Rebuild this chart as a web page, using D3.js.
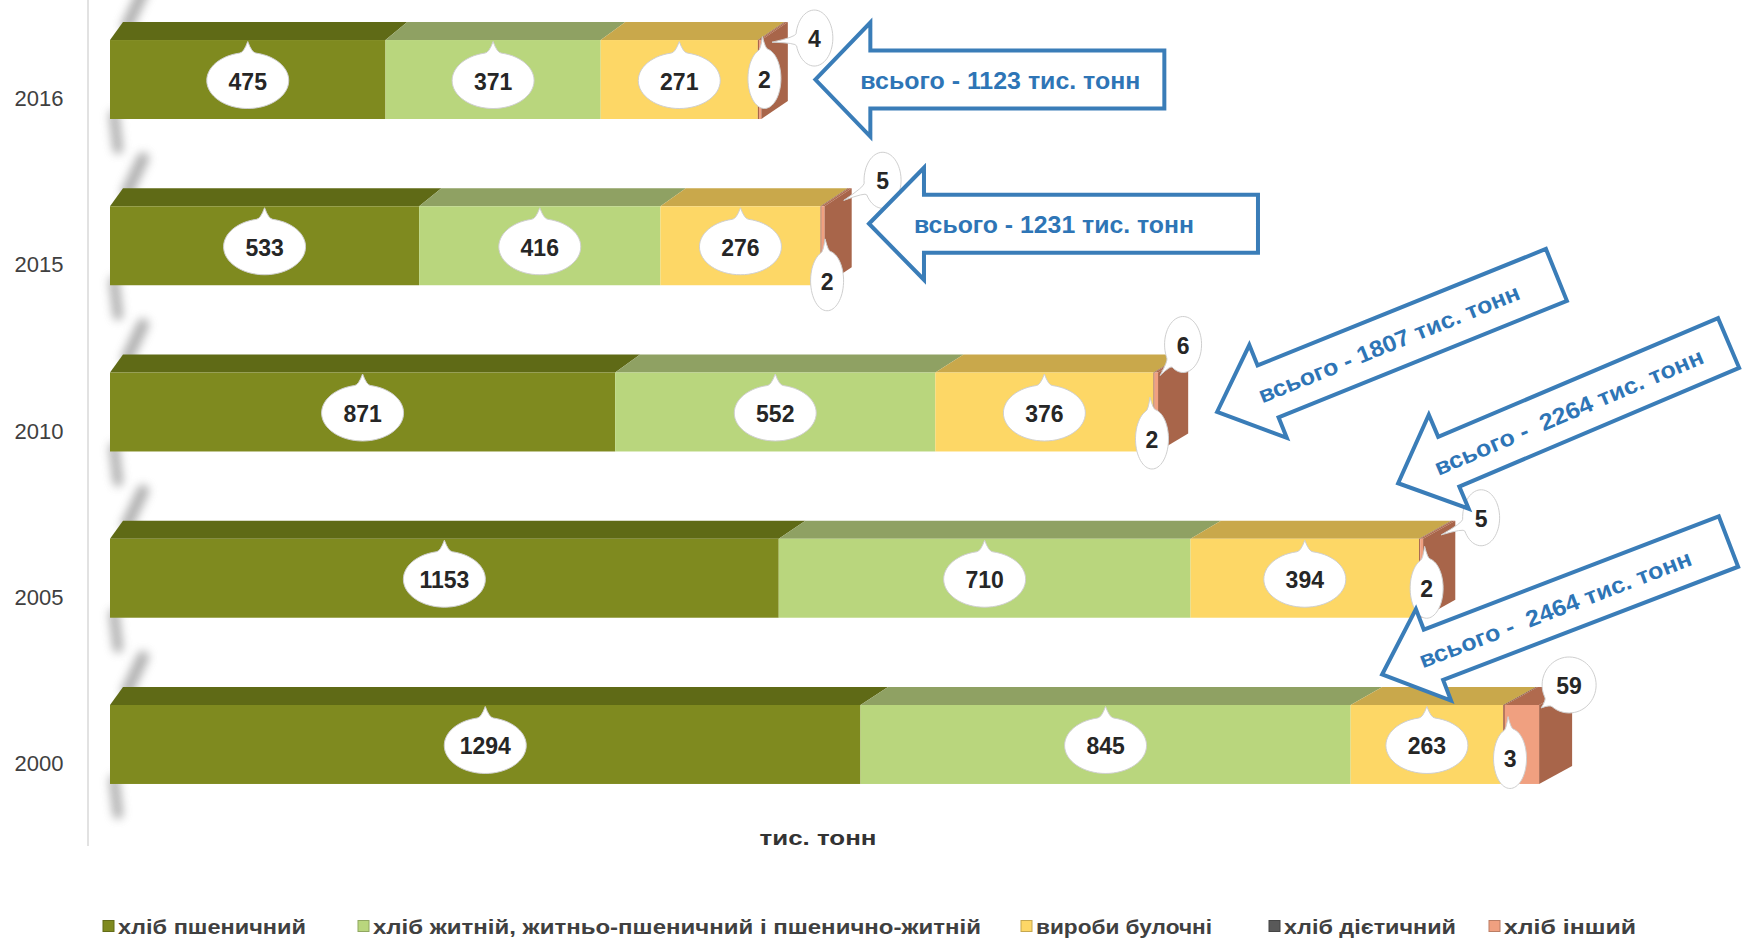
<!DOCTYPE html>
<html><head><meta charset="utf-8">
<script src="https://cdn.jsdelivr.net/npm/d3@7"></script>
<style>body{margin:0;background:#fff} svg{display:block}</style>
</head><body><svg id="chart" width="1746" height="941"></svg>
<script>
// ---------- DATA ----------
const years = ["2016", "2015", "2010", "2005", "2000"];
const seriesNames = ["хліб пшеничний", "хліб житній, житньо-пшеничний і пшенично-житній", "вироби булочні", "хліб дієтичний", "хліб інший"];
const wheat   = [475, 533, 871, 1153, 1294];
const rye     = [371, 416, 552, 710, 845];
const buns    = [271, 276, 376, 394, 263];
const dietary = [2, 2, 2, 2, 3];
const other   = [4, 5, 6, 5, 59];
const totals  = [1123, 1231, 1807, 2264, 2464];
const totalLabels = ["всього - 1123 тис. тонн", "всього - 1231 тис. тонн", "всього - 1807 тис. тонн", "всього -  2264 тис. тонн", "всього -  2464 тис. тонн"];
const axisTitle = "тис. тонн";

// ---------- STYLE / LAYOUT ----------
const frontColors = ["#7f8a1f", "#b9d67d", "#fdd766", "#a8654a", "#f0a080"];
const topColors   = ["#5f6a16", "#8fa163", "#c9a84b", "#8a5a40", "#b06a4e"];
const sideColor   = "#a8654a";
const legendSwatch = ["#7f8a1f", "#b9d67d", "#fdd766", "#595959", "#f0a080"];
const legendX = [103, 358, 1021, 1269, 1489];
const legendW = [188, 608, 176, 172, 132];
const dietNudge  = [[6, -1], [6, 35], [-2, 27], [7, 10], [6, 14]];
const otherNudge = [[53, -2], [58, -26], [25, -28], [58, -21], [30, -20]];
const arrowLayout = [
  {dx: 54, dy: 0, ang: 0, len: 349, hw: 57, sw: 29},
  {dx: 45, dy: -22, ang: 0, len: 389, hw: 56, sw: 29},
  {dx: 59, dy: 0, ang: 22, len: 366, hw: 50, sw: 28},
  {dx: -25, dy: -95, ang: 23, len: 359, hw: 51, sw: 27},
  {dx: -157, dy: -70, ang: 21, len: 371, hw: 49, sw: 27}
];
const FONT = "'Liberation Sans', Arial, sans-serif";

const svg = d3.select("#chart");
const defs = svg.append("defs");
defs.append("filter").attr("id", "blur").attr("filterUnits", "userSpaceOnUse")
  .attr("x", 0).attr("y", 0).attr("width", 400).attr("height", 941)
  .append("feGaussianBlur").attr("stdDeviation", 5);

const x = d3.scaleLinear().domain([0, 2500]).range([110, 110 + 2500 * 0.58]);
const y = d3.scaleBand().domain(years).range([-3.6, 827.6]).paddingInner(0.525).paddingOuter(0.2625);
const bw = y.bandwidth();
const DY = 18;
const dxAt = px => 13 + 20 * Math.sqrt(Math.max(0, (px - 110) / 1430));

const keys = ["s0", "s1", "s2", "s3", "s4"];
const table = years.map((yr, i) => ({year: yr, s0: wheat[i], s1: rye[i], s2: buns[i], s3: dietary[i], s4: other[i]}));
const stacked = d3.stack().keys(keys)(table);

// axis line
svg.append("line").attr("x1", 88).attr("x2", 88).attr("y1", 0).attr("y2", 846)
  .attr("stroke", "#d9d9d9").attr("stroke-width", 1.5);

// year labels
svg.append("g").selectAll("text").data(years).join("text")
  .attr("x", 39).attr("y", d => y(d) + bw / 2 + 19)
  .attr("text-anchor", "middle").attr("dominant-baseline", "central")
  .attr("font-family", FONT).attr("font-size", 22).attr("fill", "#404040")
  .text(d => d);

// shadows
const shadowG = svg.append("g").attr("filter", "url(#blur)").attr("opacity", 0.6);
years.forEach(yr => {
  const top = y(yr), bot = top + bw, x0 = x(0), dl = dxAt(x0);
  shadowG.append("path")
    .attr("d", `M${x0 + dl + 20},${top - DY - 30} L${x0 + dl + 4},${top - DY + 4}`)
    .attr("stroke", "#7a7a7a").attr("stroke-width", 12).attr("fill", "none").attr("stroke-linecap", "round");
  shadowG.append("path")
    .attr("d", `M${x0 + 4},${bot - 4} L${x0 + 8},${bot + 30}`)
    .attr("stroke", "#7a7a7a").attr("stroke-width", 10).attr("fill", "none").attr("stroke-linecap", "round");
});

// bars
const barsG = svg.append("g");
years.forEach((yr, i) => {
  const top = y(yr), bot = top + bw;
  const g = barsG.append("g");
  stacked.forEach((s, k) => {
    const [a, b] = s[i];
    const xa = x(a), xb = x(b);
    g.append("polygon")
      .attr("points", [[xa, top], [xb, top], [xb + dxAt(xb), top - DY], [xa + dxAt(xa), top - DY]].map(p => p.join(",")).join(" "))
      .attr("fill", topColors[k]);
  });
  stacked.forEach((s, k) => {
    const [a, b] = s[i];
    g.append("rect").attr("x", x(a)).attr("y", top).attr("width", Math.max(0, x(b) - x(a))).attr("height", bw)
      .attr("fill", frontColors[k]);
  });
  const xe = x(stacked[4][i][1]), de = dxAt(xe);
  g.append("polygon")
    .attr("points", [[xe, top], [xe + de, top - DY], [xe + de, bot - DY], [xe, bot]].map(p => p.join(",")).join(" "))
    .attr("fill", sideColor);
});

// bubble helper
function bubblePath(cx, cy, rx, ry, tx, ty, maxTip, delta) {
  const th = Math.atan2((ty - cy) / ry, (tx - cx) / rx);
  const pts = [];
  const n = 60;
  for (let j = 0; j <= n; j++) {
    const t = th + delta + (2 * Math.PI - 2 * delta) * j / n;
    pts.push([cx + rx * Math.cos(t), cy + ry * Math.sin(t)]);
  }
  const bx = cx + rx * Math.cos(th), by = cy + ry * Math.sin(th);
  const dist = Math.hypot(tx - bx, ty - by);
  const L = Math.min(dist, maxTip);
  const ux = (tx - bx) / (dist || 1), uy = (ty - by) / (dist || 1);
  const tip = [bx + ux * L, by + uy * L];
  const p1 = pts[0], p2 = pts[pts.length - 1];
  return `M${tip[0]},${tip[1]} Q${(p2[0] + bx) / 2},${(p2[1] + by) / 2} ${p2[0]},${p2[1]} ` +
    pts.slice().reverse().map(p => `L${p[0]},${p[1]}`).join(" ") +
    ` Q${(p1[0] + bx) / 2},${(p1[1] + by) / 2} ${tip[0]},${tip[1]} Z`;
}

const labelG = svg.append("g");
function addBubble(cx, cy, rx, ry, tx, ty, maxTip, delta, txt) {
  labelG.append("path").attr("d", bubblePath(cx, cy, rx, ry, tx, ty, maxTip, delta))
    .attr("fill", "#ffffff").attr("stroke", "#cfcfcf").attr("stroke-width", 1);
  labelG.append("text").attr("x", cx).attr("y", cy + 1)
    .attr("text-anchor", "middle").attr("dominant-baseline", "central")
    .attr("font-family", FONT).attr("font-weight", "bold").attr("font-size", 23).attr("fill", "#262626")
    .text(txt);
}

years.forEach((yr, i) => {
  const top = y(yr), cyc = top + bw / 2;
  [0, 1, 2].forEach(k => {
    const [a, b] = stacked[k][i];
    const cx = (x(a) + x(b)) / 2, cy = cyc + 1, ry = 28;
    addBubble(cx, cy, 41, ry, cx, cy - ry - 11, 11, 0.2, String(table[i][keys[k]]));
  });
  {
    const [a, b] = stacked[3][i];
    const txt = String(dietary[i]);
    const cx = x((a + b) / 2) + dietNudge[i][0], cy = cyc + dietNudge[i][1];
    const rx = 8 + txt.length * 8.5, ry = 30;
    addBubble(cx, cy, rx, ry, cx - 2, cy - ry - 12, 12, 0.3, txt);
  }
  {
    const xe = x(stacked[4][i][1]);
    const txt = String(other[i]);
    const cx = xe + otherNudge[i][0], cy = top + otherNudge[i][1];
    const rx = 10 + txt.length * 8.5, ry = 28;
    addBubble(cx, cy, rx, ry, xe + 2, top + 3, 24, 0.22, txt);
  }
});

// arrows
const arrowG = svg.append("g");
years.forEach((yr, i) => {
  const L = arrowLayout[i];
  const tx = x(totals[i]) + L.dx, ty = y(yr) + bw / 2 + L.dy;
  const hl = 55;
  const pts = [[0, 0], [hl, -L.hw], [hl, -L.sw], [L.len, -L.sw], [L.len, L.sw], [hl, L.sw], [hl, L.hw]];
  const g = arrowG.append("g").attr("transform", `translate(${tx},${ty}) rotate(${-L.ang})`);
  g.append("polygon").attr("points", pts.map(p => p.join(",")).join(" "))
    .attr("fill", "#ffffff").attr("stroke", "#3a7db8").attr("stroke-width", 4).attr("stroke-linejoin", "miter");
  g.append("text").attr("x", 185).attr("y", 1)
    .attr("text-anchor", "middle").attr("dominant-baseline", "central")
    .attr("font-family", FONT).attr("font-weight", "bold").attr("font-size", 23)
    .attr("fill", "#2e75b6")
    .attr("textLength", totalLabels[i].includes("  ") ? 290 : 280).attr("lengthAdjust", "spacingAndGlyphs")
    .attr("xml:space", "preserve")
    .text(totalLabels[i]);
});

// axis title
svg.append("text").attr("x", 818).attr("y", 837)
  .attr("text-anchor", "middle").attr("dominant-baseline", "central")
  .attr("font-family", FONT).attr("font-weight", "bold").attr("font-size", 21).attr("fill", "#333333")
  .attr("textLength", 117).attr("lengthAdjust", "spacingAndGlyphs")
  .text(axisTitle);

// legend
const legG = svg.append("g");
seriesNames.forEach((name, k) => {
  const lx = legendX[k];
  legG.append("rect").attr("x", lx).attr("y", 920.5).attr("width", 11).attr("height", 11)
    .attr("fill", legendSwatch[k]).attr("stroke", d3.color(legendSwatch[k]).darker(0.7)).attr("stroke-width", 1);
  legG.append("text").attr("x", lx + 15).attr("y", 926)
    .attr("dominant-baseline", "central")
    .attr("font-family", FONT).attr("font-weight", "bold").attr("font-size", 21).attr("fill", "#404040")
    .attr("textLength", legendW[k]).attr("lengthAdjust", "spacingAndGlyphs")
    .text(name);
});
</script>
</body></html>
